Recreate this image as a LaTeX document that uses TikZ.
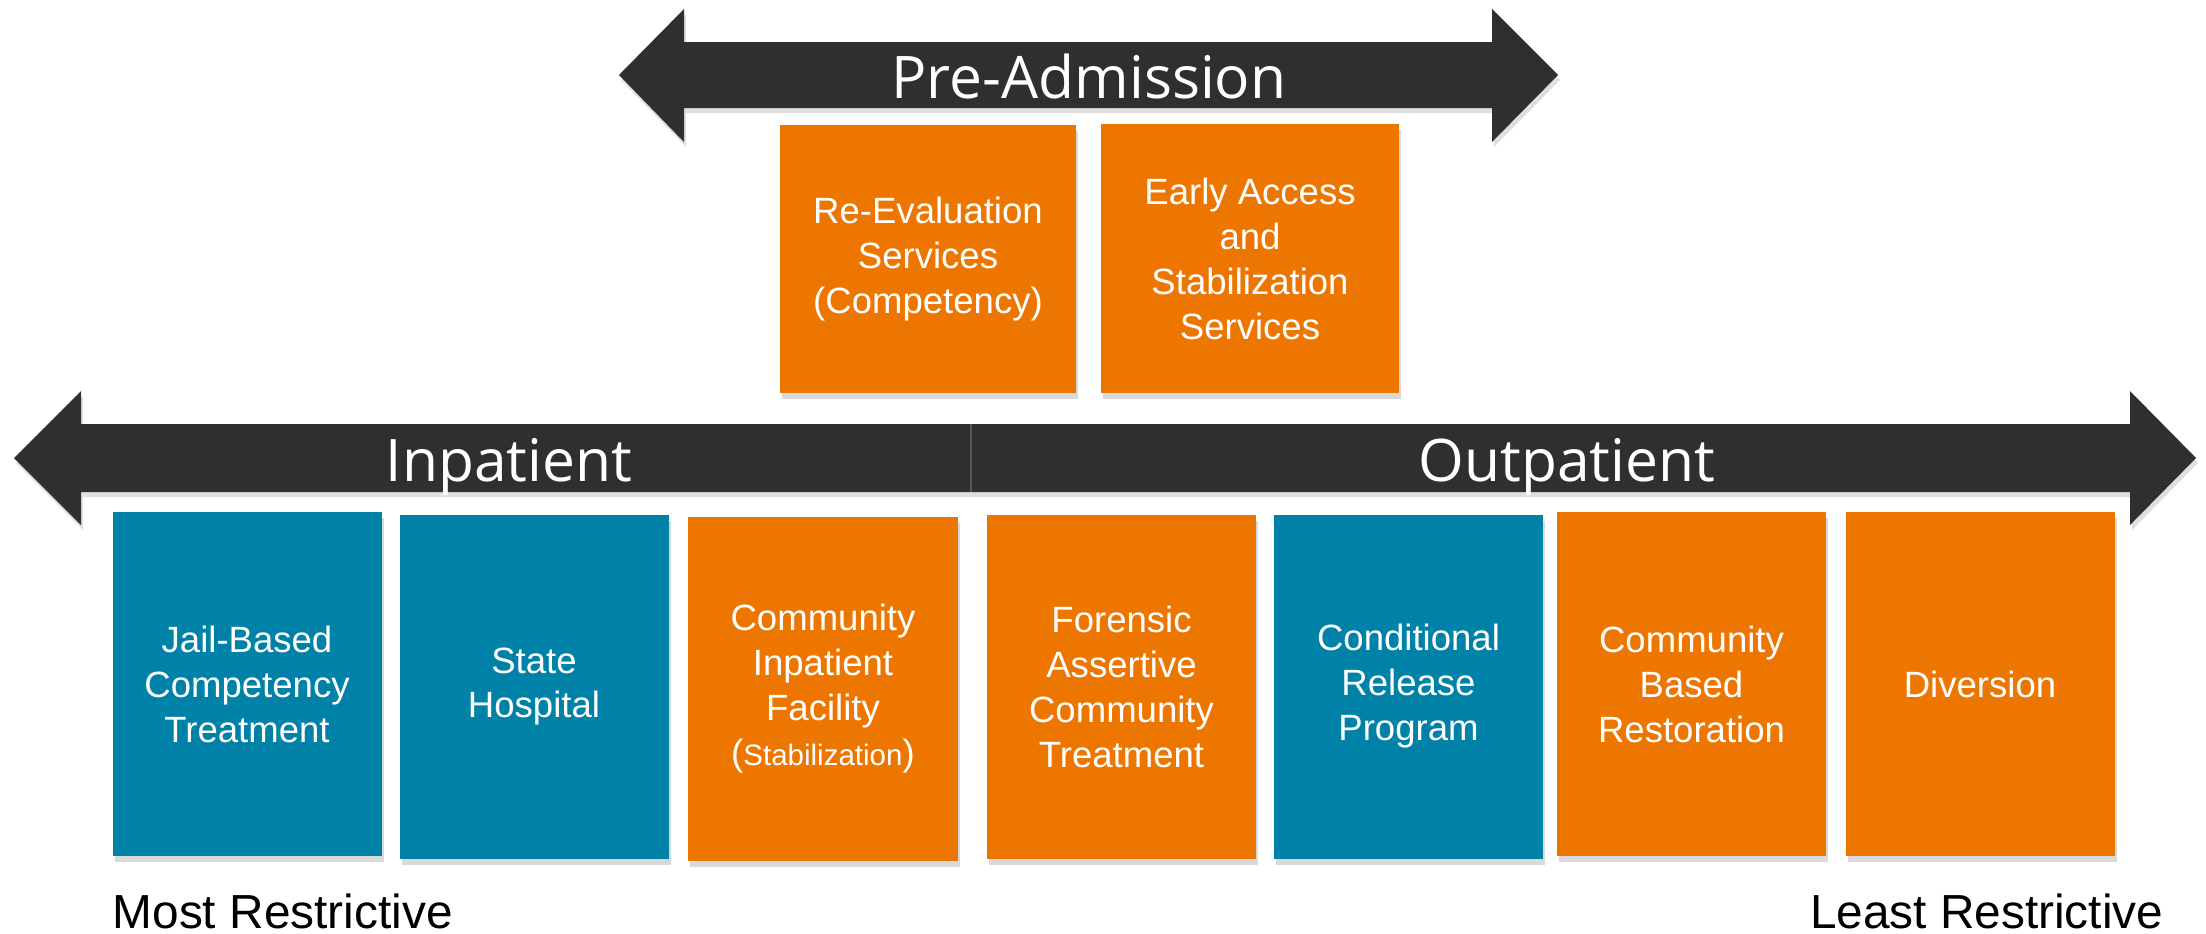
\documentclass[tikz,border=0pt]{standalone}
\usepackage{fontspec}
\setmainfont{Liberation Sans}
\newfontfamily\bandfont{Open Sans}
\usetikzlibrary{shadows}

\definecolor{svcorange}{RGB}{237,118,0}
\definecolor{svcblue}{RGB}{0,130,168}
\definecolor{bandgray}{RGB}{47,47,47}

\tikzset{
    svcbox/.style={text=white, align=center, inner sep=0pt,
        minimum width=26.9mm, minimum height=34.4mm,
        font=\fontsize{10.4}{12.8}\selectfont,
        drop shadow={shadow xshift=0.2mm, shadow yshift=-0.6mm, opacity=0.3}},
    orangebox/.style={svcbox, fill=svcorange},
    bluebox/.style={svcbox, fill=svcblue},
    band/.style={fill=bandgray, drop shadow={shadow xshift=0.2mm, shadow yshift=-0.5mm, opacity=0.25}},
    bandlabel/.style={text=white, anchor=base, inner sep=0pt, font=\bandfont\fontsize{16.7}{20}\selectfont},
    endlabel/.style={inner sep=0pt, font=\fontsize{13.6}{16}\selectfont}
}

\begin{document}
\begin{tikzpicture}[x=0.1mm, y=-0.1mm]
    \useasboundingbox (0,0) rectangle (2206,933);

    % pre-admission band
    \path[band] (619,75) -- (684,9) -- (684,42) -- (1492,42) -- (1492,9) -- (1558,75)
        -- (1492,142) -- (1492,108) -- (684,108) -- (684,142) -- cycle;
    \node[bandlabel] (preadm) at (1089,98) {Pre-Admission};

    \node[orangebox, minimum width=29.6mm, minimum height=26.8mm] (reeval) at (928,259)
        {Re-Evaluation\\Services\\(Competency)};
    \node[orangebox, minimum width=29.8mm, minimum height=26.9mm] (early) at (1250,258.5)
        {Early Access\\and\\Stabilization\\Services};

    % inpatient / outpatient band
    \path[band] (14,458) -- (81,391) -- (81,424) -- (971,424) -- (971,492) -- (81,492) -- (81,525) -- cycle;
    \path[band] (971,424) -- (2130,424) -- (2130,391) -- (2196,458) -- (2130,525) -- (2130,492) -- (971,492) -- cycle;
    \draw[bandgray!80!white, line width=0.15mm] (971,424) -- (971,492);
    \node[bandlabel] (inpat) at (509,481) {Inpatient};
    \node[bandlabel] (outpat) at (1567,481) {Outpatient};

    \node[bluebox] (jail) at (247,684) {Jail-Based\\Competency\\Treatment};
    \node[bluebox] (statehosp) at (534,686.5) {State\\Hospital};
    \node[orangebox, minimum width=27mm] (cominp) at (823,688.5)
        {Community\\Inpatient\\Facility\\({\fontsize{8.4}{12.8}\selectfont Stabilization})};
    \node[orangebox] (fact) at (1121.5,686.5) {Forensic\\Assertive\\Community\\Treatment};
    \node[bluebox] (condrel) at (1408.5,686.5) {Conditional\\Release\\Program};
    \node[orangebox] (combased) at (1691.5,684) {Community\\Based\\Restoration};
    \node[orangebox] (diversion) at (1980,684) {Diversion};

    \node[endlabel, anchor=base west] (mostr) at (112,928) {Most Restrictive};
    \node[endlabel, anchor=base east] (leastr) at (2164,928) {Least Restrictive};

\end{tikzpicture}
\end{document}
